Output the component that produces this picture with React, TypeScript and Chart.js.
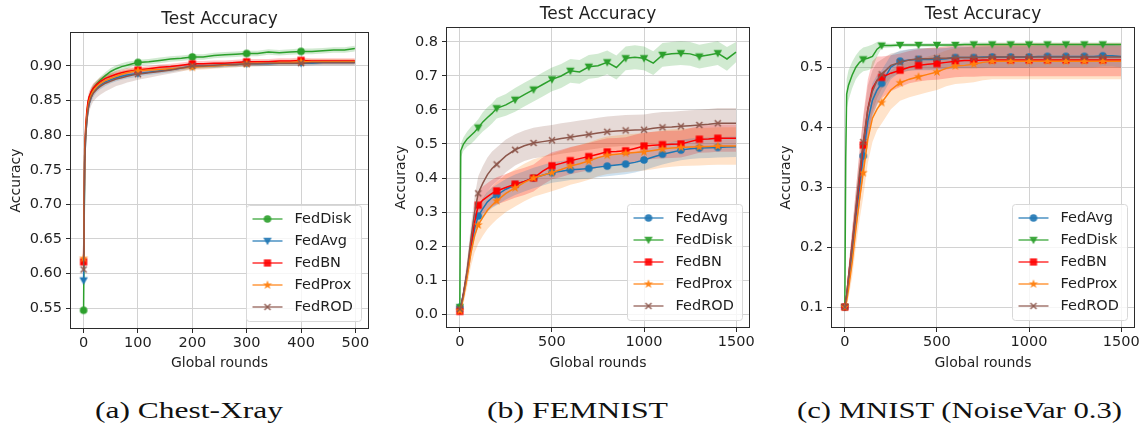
import React, { useEffect, useLayoutEffect, useRef } from 'react';
import { Chart, registerables } from 'chart.js';

Chart.register(...registerables);

// ---------------- DATA ----------------
const seriesColors: Record<string, string> = {
  FedAvg: '#1f77b4',
  FedDisk: '#2ca02c',
  FedBN: '#ff0000',
  FedProx: '#ff7f0e',
  FedROD: '#8c564b',
};

const titleText = 'Test Accuracy';
const xAxisLabel = 'Global rounds';
const yAxisLabel = 'Accuracy';
const captions = ['(a) Chest-Xray', '(b) FEMNIST', '(c) MNIST (NoiseVar 0.3)'];

// Panel (a) Chest-Xray
const xTicksA = [0, 100, 200, 300, 400, 500];
const yTicksA = [0.55, 0.6, 0.65, 0.7, 0.75, 0.8, 0.85, 0.9];
const legendOrderA = ['FedDisk', 'FedAvg', 'FedBN', 'FedProx', 'FedROD'];
const roundsA = [
  0, 2, 4, 6, 8, 10, 14, 18, 24, 30,
  40, 50, 60, 70, 80, 90, 100, 120, 140, 160,
  180, 200, 220, 240, 260, 280, 300, 320, 340, 360,
  380, 400, 420, 440, 460, 480, 499,
];
const fedDiskA = [
  0.547, 0.77, 0.81, 0.83, 0.845, 0.853, 0.862, 0.868, 0.874, 0.879,
  0.886, 0.892, 0.896, 0.899, 0.901, 0.903, 0.905, 0.906, 0.908, 0.910,
  0.911, 0.913, 0.913, 0.915, 0.916, 0.917, 0.918, 0.918, 0.920, 0.919,
  0.920, 0.921, 0.921, 0.922, 0.923, 0.923, 0.925,
];
const fedAvgA = [
  0.590, 0.76, 0.80, 0.822, 0.836, 0.845, 0.855, 0.862, 0.868, 0.872,
  0.877, 0.880, 0.883, 0.885, 0.887, 0.888, 0.889, 0.891, 0.893, 0.895,
  0.897, 0.899, 0.900, 0.900, 0.901, 0.902, 0.903, 0.903, 0.903, 0.904,
  0.904, 0.904, 0.904, 0.905, 0.905, 0.905, 0.905,
];
const fedBnA = [
  0.617, 0.78, 0.815, 0.835, 0.848, 0.855, 0.863, 0.868, 0.873, 0.877,
  0.882, 0.885, 0.888, 0.890, 0.892, 0.893, 0.894, 0.896, 0.898, 0.899,
  0.901, 0.903, 0.903, 0.904, 0.904, 0.905, 0.906, 0.906, 0.906, 0.907,
  0.907, 0.908, 0.907, 0.907, 0.907, 0.907, 0.907,
];
const fedProxA = [
  0.622, 0.77, 0.805, 0.826, 0.840, 0.849, 0.858, 0.864, 0.870, 0.874,
  0.879, 0.882, 0.885, 0.888, 0.890, 0.892, 0.893, 0.894, 0.895, 0.896,
  0.897, 0.898, 0.899, 0.900, 0.901, 0.902, 0.903, 0.904, 0.904, 0.905,
  0.905, 0.906, 0.906, 0.906, 0.906, 0.906, 0.906,
];
const fedRodA = [
  0.606, 0.76, 0.80, 0.82, 0.835, 0.845, 0.855, 0.861, 0.866, 0.870,
  0.875, 0.878, 0.881, 0.883, 0.885, 0.887, 0.888, 0.890, 0.892, 0.894,
  0.897, 0.900, 0.900, 0.901, 0.902, 0.902, 0.903, 0.903, 0.904, 0.904,
  0.904, 0.904, 0.905, 0.905, 0.905, 0.905, 0.905,
];
const bandDiskA = [
  0, 0.012, 0.010, 0.008, 0.007, 0.006, 0.006, 0.005, 0.005, 0.005,
  0.005, 0.005, 0.005, 0.005, 0.005, 0.004, 0.004, 0.004, 0.004, 0.004,
  0.004, 0.004, 0.004, 0.004, 0.004, 0.004, 0.004, 0.004, 0.004, 0.004,
  0.004, 0.004, 0.004, 0.004, 0.004, 0.004, 0.004,
];
const bandAvgA = [
  0, 0.012, 0.010, 0.009, 0.008, 0.008, 0.007, 0.007, 0.006, 0.006,
  0.006, 0.005, 0.005, 0.005, 0.005, 0.005, 0.004, 0.004, 0.004, 0.004,
  0.003, 0.003, 0.003, 0.003, 0.003, 0.003, 0.003, 0.003, 0.003, 0.003,
  0.003, 0.003, 0.003, 0.003, 0.003, 0.003, 0.003,
];
const bandBnA = [
  0, 0.012, 0.010, 0.009, 0.008, 0.008, 0.007, 0.007, 0.006, 0.006,
  0.006, 0.005, 0.005, 0.005, 0.005, 0.005, 0.004, 0.004, 0.004, 0.004,
  0.004, 0.004, 0.004, 0.004, 0.004, 0.004, 0.004, 0.004, 0.004, 0.004,
  0.004, 0.004, 0.004, 0.004, 0.004, 0.004, 0.004,
];
const bandProxA = [
  0, 0.012, 0.010, 0.009, 0.008, 0.008, 0.007, 0.007, 0.006, 0.006,
  0.006, 0.006, 0.005, 0.005, 0.005, 0.005, 0.005, 0.004, 0.004, 0.004,
  0.004, 0.004, 0.004, 0.004, 0.004, 0.004, 0.004, 0.004, 0.004, 0.004,
  0.004, 0.004, 0.004, 0.004, 0.004, 0.004, 0.004,
];
const bandRodA = [
  0, 0.012, 0.012, 0.012, 0.012, 0.012, 0.012, 0.012, 0.012, 0.012,
  0.012, 0.011, 0.010, 0.010, 0.009, 0.009, 0.008, 0.007, 0.006, 0.005,
  0.005, 0.004, 0.004, 0.004, 0.004, 0.004, 0.004, 0.004, 0.004, 0.004,
  0.004, 0.004, 0.004, 0.004, 0.004, 0.004, 0.004,
];

// Panel (b) FEMNIST
const xTicksB = [0, 500, 1000, 1500];
const yTicksB = [0.0, 0.1, 0.2, 0.3, 0.4, 0.5, 0.6, 0.7, 0.8];
const legendOrderB = ['FedAvg', 'FedDisk', 'FedBN', 'FedProx', 'FedROD'];
const roundsB = [
  0, 5, 20, 40, 60, 80, 100, 125, 150, 175,
  200, 250, 300, 350, 400, 450, 500, 550, 600, 650,
  700, 750, 800, 850, 900, 950, 1000, 1050, 1100, 1150,
  1200, 1250, 1300, 1350, 1400, 1450, 1499,
];
const fedAvgB = [
  0.020, 0.025, 0.06, 0.12, 0.19, 0.25, 0.288, 0.31, 0.33, 0.342,
  0.350, 0.367, 0.380, 0.390, 0.400, 0.408, 0.416, 0.420, 0.424, 0.426,
  0.428, 0.432, 0.435, 0.438, 0.441, 0.446, 0.453, 0.462, 0.470, 0.476,
  0.482, 0.486, 0.488, 0.489, 0.490, 0.491, 0.492,
];
const fedDiskB = [
  0.020, 0.480, 0.500, 0.515, 0.525, 0.535, 0.548, 0.565, 0.578, 0.590,
  0.605, 0.615, 0.630, 0.645, 0.660, 0.675, 0.690, 0.700, 0.715, 0.712,
  0.727, 0.730, 0.740, 0.725, 0.752, 0.755, 0.752, 0.738, 0.762, 0.765,
  0.767, 0.765, 0.757, 0.762, 0.767, 0.750, 0.770,
];
const fedBnB = [
  0.008, 0.015, 0.06, 0.12, 0.20, 0.27, 0.320, 0.335, 0.345, 0.355,
  0.362, 0.372, 0.382, 0.390, 0.400, 0.420, 0.436, 0.443, 0.451, 0.457,
  0.463, 0.470, 0.477, 0.478, 0.480, 0.487, 0.494, 0.496, 0.498, 0.499,
  0.500, 0.507, 0.514, 0.515, 0.517, 0.517, 0.517,
];
const fedProxB = [
  0.010, 0.015, 0.05, 0.11, 0.18, 0.23, 0.262, 0.285, 0.305, 0.320,
  0.333, 0.355, 0.371, 0.387, 0.400, 0.408, 0.416, 0.425, 0.435, 0.442,
  0.450, 0.460, 0.467, 0.470, 0.473, 0.475, 0.477, 0.481, 0.485, 0.488,
  0.490, 0.491, 0.492, 0.493, 0.494, 0.494, 0.494,
];
const fedRodB = [
  0.015, 0.020, 0.06, 0.13, 0.22, 0.30, 0.355, 0.385, 0.410, 0.428,
  0.440, 0.465, 0.483, 0.495, 0.503, 0.507, 0.511, 0.516, 0.520, 0.524,
  0.528, 0.532, 0.536, 0.538, 0.540, 0.541, 0.542, 0.546, 0.549, 0.550,
  0.552, 0.554, 0.556, 0.558, 0.561, 0.561, 0.561,
];
const bandAvgB = [
  0, 0.005, 0.015, 0.020, 0.025, 0.030, 0.030, 0.030, 0.030, 0.030,
  0.030, 0.030, 0.030, 0.030, 0.030, 0.030, 0.030, 0.030, 0.030, 0.030,
  0.030, 0.030, 0.030, 0.030, 0.030, 0.030, 0.030, 0.030, 0.030, 0.030,
  0.030, 0.030, 0.030, 0.030, 0.030, 0.030, 0.030,
];
const bandDiskB = [
  0, 0.020, 0.020, 0.022, 0.025, 0.025, 0.025, 0.028, 0.030, 0.030,
  0.030, 0.032, 0.035, 0.035, 0.035, 0.035, 0.035, 0.035, 0.035, 0.035,
  0.035, 0.035, 0.035, 0.035, 0.035, 0.035, 0.035, 0.035, 0.035, 0.035,
  0.035, 0.035, 0.035, 0.035, 0.035, 0.035, 0.030,
];
const bandBnB = [
  0, 0.005, 0.015, 0.025, 0.035, 0.040, 0.040, 0.040, 0.040, 0.040,
  0.040, 0.040, 0.040, 0.040, 0.040, 0.040, 0.040, 0.040, 0.040, 0.040,
  0.040, 0.040, 0.040, 0.040, 0.040, 0.040, 0.040, 0.040, 0.040, 0.040,
  0.040, 0.040, 0.040, 0.040, 0.040, 0.040, 0.040,
];
const bandProxB = [
  0, 0.005, 0.020, 0.030, 0.040, 0.050, 0.055, 0.055, 0.055, 0.055,
  0.055, 0.055, 0.055, 0.055, 0.055, 0.055, 0.055, 0.055, 0.055, 0.055,
  0.055, 0.055, 0.055, 0.055, 0.055, 0.055, 0.055, 0.055, 0.055, 0.055,
  0.055, 0.055, 0.055, 0.055, 0.055, 0.055, 0.055,
];
const bandRodB = [
  0, 0.005, 0.020, 0.030, 0.040, 0.045, 0.050, 0.050, 0.050, 0.050,
  0.050, 0.048, 0.046, 0.045, 0.045, 0.045, 0.045, 0.045, 0.045, 0.045,
  0.045, 0.045, 0.045, 0.045, 0.045, 0.045, 0.045, 0.045, 0.045, 0.045,
  0.045, 0.045, 0.045, 0.045, 0.045, 0.045, 0.045,
];

// Panel (c) MNIST (NoiseVar 0.3)
const xTicksC = [0, 500, 1000, 1500];
const yTicksC = [0.1, 0.2, 0.3, 0.4, 0.5];
const legendOrderC = ['FedAvg', 'FedDisk', 'FedBN', 'FedProx', 'FedROD'];
const roundsC = [
  0, 5, 10, 20, 40, 60, 80, 100, 125, 150,
  175, 200, 250, 300, 350, 400, 450, 500, 550, 600,
  650, 700, 750, 800, 850, 900, 950, 1000, 1050, 1100,
  1150, 1200, 1250, 1300, 1350, 1400, 1450, 1499,
];
const fedAvgC = [
  0.100, 0.110, 0.120, 0.140, 0.190, 0.250, 0.300, 0.352, 0.410, 0.445,
  0.462, 0.473, 0.500, 0.510, 0.512, 0.513, 0.513, 0.513, 0.514, 0.516,
  0.516, 0.516, 0.517, 0.517, 0.517, 0.517, 0.517, 0.517, 0.518, 0.518,
  0.518, 0.518, 0.518, 0.518, 0.518, 0.519, 0.519, 0.518,
];
const fedDiskC = [
  0.100, 0.350, 0.455, 0.470, 0.487, 0.500, 0.508, 0.513, 0.515, 0.518,
  0.530, 0.536, 0.536, 0.537, 0.537, 0.537, 0.537, 0.537, 0.537, 0.537,
  0.538, 0.538, 0.538, 0.538, 0.538, 0.538, 0.538, 0.538, 0.538, 0.538,
  0.538, 0.538, 0.538, 0.538, 0.538, 0.538, 0.538, 0.538,
];
const fedBnC = [
  0.100, 0.110, 0.120, 0.150, 0.205, 0.260, 0.315, 0.370, 0.430, 0.465,
  0.478, 0.483, 0.490, 0.495, 0.500, 0.503, 0.505, 0.506, 0.508, 0.510,
  0.511, 0.511, 0.512, 0.512, 0.512, 0.512, 0.512, 0.512, 0.512, 0.512,
  0.512, 0.512, 0.512, 0.512, 0.512, 0.512, 0.512, 0.512,
];
const fedProxC = [
  0.100, 0.105, 0.110, 0.130, 0.175, 0.230, 0.280, 0.324, 0.380, 0.415,
  0.430, 0.441, 0.462, 0.474, 0.480, 0.484, 0.488, 0.492, 0.498, 0.502,
  0.503, 0.505, 0.508, 0.510, 0.510, 0.510, 0.510, 0.510, 0.510, 0.510,
  0.510, 0.510, 0.510, 0.510, 0.510, 0.510, 0.510, 0.510,
];
const fedRodC = [
  0.100, 0.110, 0.120, 0.150, 0.205, 0.265, 0.325, 0.375, 0.430, 0.460,
  0.478, 0.488, 0.503, 0.508, 0.512, 0.514, 0.514, 0.515, 0.515, 0.516,
  0.516, 0.516, 0.516, 0.517, 0.517, 0.517, 0.517, 0.517, 0.517, 0.517,
  0.517, 0.517, 0.517, 0.517, 0.517, 0.517, 0.517, 0.517,
];
const bandAvgC = [
  0, 0.005, 0.008, 0.012, 0.020, 0.025, 0.030, 0.030, 0.030, 0.028,
  0.025, 0.022, 0.020, 0.018, 0.018, 0.018, 0.018, 0.018, 0.018, 0.018,
  0.018, 0.018, 0.018, 0.018, 0.018, 0.018, 0.018, 0.018, 0.018, 0.018,
  0.018, 0.018, 0.018, 0.018, 0.018, 0.018, 0.018, 0.018,
];
const bandDiskC = [
  0, 0.030, 0.025, 0.025, 0.022, 0.020, 0.020, 0.020, 0.020, 0.020,
  0.012, 0.004, 0.003, 0.003, 0.003, 0.003, 0.003, 0.003, 0.003, 0.003,
  0.003, 0.003, 0.003, 0.003, 0.003, 0.003, 0.003, 0.003, 0.003, 0.003,
  0.003, 0.003, 0.003, 0.003, 0.003, 0.003, 0.003, 0.003,
];
const bandBnC = [
  0, 0.005, 0.010, 0.015, 0.025, 0.035, 0.045, 0.050, 0.050, 0.045,
  0.040, 0.035, 0.030, 0.028, 0.027, 0.027, 0.027, 0.027, 0.027, 0.027,
  0.027, 0.027, 0.027, 0.027, 0.027, 0.027, 0.027, 0.027, 0.027, 0.027,
  0.027, 0.027, 0.027, 0.027, 0.027, 0.027, 0.027, 0.027,
];
const bandProxC = [
  0, 0.005, 0.010, 0.015, 0.025, 0.030, 0.035, 0.040, 0.040, 0.040,
  0.035, 0.035, 0.032, 0.030, 0.030, 0.030, 0.030, 0.030, 0.030, 0.030,
  0.030, 0.030, 0.030, 0.030, 0.030, 0.030, 0.030, 0.030, 0.030, 0.030,
  0.030, 0.030, 0.030, 0.030, 0.030, 0.030, 0.030, 0.030,
];
const bandRodC = [
  0, 0.005, 0.010, 0.015, 0.025, 0.030, 0.035, 0.040, 0.040, 0.035,
  0.030, 0.025, 0.020, 0.018, 0.018, 0.018, 0.018, 0.018, 0.018, 0.018,
  0.018, 0.018, 0.018, 0.018, 0.018, 0.018, 0.018, 0.018, 0.018, 0.018,
  0.018, 0.018, 0.018, 0.018, 0.018, 0.018, 0.018, 0.018,
];

// ---------------- STYLE / LAYOUT ----------------
const FONT = '"DejaVu Sans", "Noto Sans", sans-serif';
const TEXT = '#1f1f1f';
const GRID = '#d2d2d2';
const SPINE = '#2b2b2b';

type Series = { name: string; values: number[]; spread: number[]; marker: string };
type Panel = {
  left: number; width: number; height: number;
  yWidth: number; padRight: number; padTop: number; xHeight: number;
  yTitlePad: number; titleY: number;
  xMin: number; xMax: number; yMin: number; yMax: number;
  xTicks: number[]; yTicks: number[]; yDecimals: number; lastMarker: number;
  rounds: number[]; series: Series[]; legend: string[];
};

const panels: Panel[] = [
  {
    left: 0, width: 380, height: 375, yWidth: 70, padRight: 11, padTop: 32, xHeight: 46,
    yTitlePad: 7.6, titleY: 19.5,
    xMin: -25, xMax: 525, yMin: 0.52, yMax: 0.949,
    xTicks: xTicksA, yTicks: yTicksA, yDecimals: 2, lastMarker: 400,
    rounds: roundsA, legend: legendOrderA,
    series: [
      { name: 'FedDisk', values: fedDiskA, spread: bandDiskA, marker: 'o' },
      { name: 'FedAvg', values: fedAvgA, spread: bandAvgA, marker: 'v' },
      { name: 'FedBN', values: fedBnA, spread: bandBnA, marker: 's' },
      { name: 'FedProx', values: fedProxA, spread: bandProxA, marker: '*' },
      { name: 'FedROD', values: fedRodA, spread: bandRodA, marker: 'x' },
    ],
  },
  {
    left: 380, width: 380, height: 375, yWidth: 66, padRight: 10, padTop: 27, xHeight: 47,
    yTitlePad: 12.6, titleY: 14.5,
    xMin: -75, xMax: 1575, yMin: -0.041, yMax: 0.844,
    xTicks: xTicksB, yTicks: yTicksB, yDecimals: 1, lastMarker: 1400,
    rounds: roundsB, legend: legendOrderB,
    series: [
      { name: 'FedAvg', values: fedAvgB, spread: bandAvgB, marker: 'o' },
      { name: 'FedDisk', values: fedDiskB, spread: bandDiskB, marker: 'v' },
      { name: 'FedBN', values: fedBnB, spread: bandBnB, marker: 's' },
      { name: 'FedProx', values: fedProxB, spread: bandProxB, marker: '*' },
      { name: 'FedROD', values: fedRodB, spread: bandRodB, marker: 'x' },
    ],
  },
  {
    left: 760, width: 384, height: 375, yWidth: 71, padRight: 9, padTop: 27, xHeight: 47,
    yTitlePad: 17.6, titleY: 14.5,
    xMin: -75, xMax: 1575, yMin: 0.065, yMax: 0.567,
    xTicks: xTicksC, yTicks: yTicksC, yDecimals: 1, lastMarker: 1400,
    rounds: roundsC, legend: legendOrderC,
    series: [
      { name: 'FedAvg', values: fedAvgC, spread: bandAvgC, marker: 'o' },
      { name: 'FedDisk', values: fedDiskC, spread: bandDiskC, marker: 'v' },
      { name: 'FedBN', values: fedBnC, spread: bandBnC, marker: 's' },
      { name: 'FedProx', values: fedProxC, spread: bandProxC, marker: '*' },
      { name: 'FedROD', values: fedRodC, spread: bandRodC, marker: 'x' },
    ],
  },
];

const captionBoxes = [
  { left: 95, right: 283 },
  { left: 487, right: 668 },
  { left: 797, right: 1122 },
];

function rgba(hex: string, a: number) {
  const n = parseInt(hex.slice(1), 16);
  return `rgba(${(n >> 16) & 255},${(n >> 8) & 255},${n & 255},${a})`;
}

function makeMarker(kind: string, color: string, alpha = 1): HTMLCanvasElement {
  const S = 14;
  const c = document.createElement('canvas');
  c.width = S; c.height = S;
  const g = c.getContext('2d')!;
  g.globalAlpha = alpha;
  g.fillStyle = color; g.strokeStyle = color;
  const m = S / 2;
  if (kind === 'o') {
    g.beginPath(); g.arc(m, m, 3.8, 0, Math.PI * 2); g.fill();
  } else if (kind === 'v') {
    g.beginPath(); g.moveTo(m - 4.2, m - 3.2); g.lineTo(m + 4.2, m - 3.2); g.lineTo(m, m + 4.2); g.closePath(); g.fill();
  } else if (kind === 's') {
    g.fillRect(m - 3.6, m - 3.6, 7.2, 7.2);
  } else if (kind === '*') {
    g.beginPath();
    for (let i = 0; i < 10; i++) {
      const r = i % 2 === 0 ? 4.8 : 2.0;
      const ang = -Math.PI / 2 + (i * Math.PI) / 5;
      const px = m + r * Math.cos(ang), py = m + r * Math.sin(ang);
      if (i === 0) g.moveTo(px, py); else g.lineTo(px, py);
    }
    g.closePath(); g.fill();
  } else if (kind === 'x') {
    g.lineWidth = 1.5;
    g.beginPath();
    g.moveTo(m - 3, m - 3); g.lineTo(m + 3, m + 3);
    g.moveTo(m + 3, m - 3); g.lineTo(m - 3, m + 3);
    g.stroke();
  }
  return c;
}

function buildConfig(p: Panel): any {
  const datasets: any[] = [];
  const markerOf: Record<string, string> = {};
  p.series.forEach((s, i) => {
    const color = seriesColors[s.name];
    markerOf[s.name] = s.marker;
    const lower = p.rounds.map((x, k) => ({ x, y: s.values[k] - s.spread[k] }));
    const upper = p.rounds.map((x, k) => ({ x, y: s.values[k] + s.spread[k] }));
    datasets.push({
      label: s.name + ' lo', data: lower, borderColor: 'rgba(0,0,0,0)', borderWidth: 0,
      pointRadius: 0, fill: false, order: 100,
    });
    datasets.push({
      label: s.name + ' hi', data: upper, borderColor: 'rgba(0,0,0,0)', borderWidth: 0,
      pointRadius: 0, fill: '-1', backgroundColor: rgba(color, 0.22), order: 100,
    });
    const img = makeMarker(s.marker, color);
    datasets.push({
      label: s.name,
      data: p.rounds.map((x, k) => ({ x, y: s.values[k] })),
      borderColor: color, backgroundColor: color, borderWidth: 1.5, fill: false,
      pointStyle: img,
      pointRadius: (ctx: any) => {
        const x = ctx?.raw?.x;
        return typeof x === 'number' && x % 100 === 0 && x <= p.lastMarker ? 4 : 0;
      },
      order: 10 - i,
    });
  });

  const tickFont = { family: FONT, size: 14.5 };
  const labelFont = { family: FONT, size: 14 };

  const decor = {
    id: 'decor',
    afterDatasetsDraw(chart: any) {
      const { ctx, chartArea: a } = chart;
      ctx.save();
      ctx.strokeStyle = SPINE; ctx.lineWidth = 1;
      ctx.strokeRect(Math.round(a.left) + 0.5, Math.round(a.top) + 0.5,
        Math.round(a.right) - Math.round(a.left) - 1, Math.round(a.bottom) - Math.round(a.top) - 1);
      ctx.restore();
    },
    afterDraw(chart: any) {
      const { ctx, chartArea: a } = chart;
      ctx.save();
      // title
      ctx.fillStyle = TEXT;
      ctx.font = `17px ${FONT}`;
      ctx.textAlign = 'center'; ctx.textBaseline = 'middle';
      ctx.fillText(titleText, (a.left + a.right) / 2, p.titleY);
      // legend
      const bw = 115, bh = 116;
      const bx = a.right - 7.5 - bw, by = a.bottom - 7.5 - bh;
      ctx.beginPath();
      const r = 3;
      ctx.moveTo(bx + r, by);
      ctx.lineTo(bx + bw - r, by); ctx.quadraticCurveTo(bx + bw, by, bx + bw, by + r);
      ctx.lineTo(bx + bw, by + bh - r); ctx.quadraticCurveTo(bx + bw, by + bh, bx + bw - r, by + bh);
      ctx.lineTo(bx + r, by + bh); ctx.quadraticCurveTo(bx, by + bh, bx, by + bh - r);
      ctx.lineTo(bx, by + r); ctx.quadraticCurveTo(bx, by, bx + r, by);
      ctx.closePath();
      ctx.fillStyle = 'rgba(255,255,255,0.8)'; ctx.fill();
      ctx.strokeStyle = '#d8d8d8'; ctx.lineWidth = 1; ctx.stroke();
      p.legend.forEach((name, i) => {
        const yy = by + 13.5 + i * 22;
        const col = seriesColors[name];
        ctx.strokeStyle = rgba(col, 0.8); ctx.lineWidth = 1.5;
        ctx.beginPath(); ctx.moveTo(bx + 6, yy); ctx.lineTo(bx + 36, yy); ctx.stroke();
        const mk = makeMarker(markerOf[name], col, 0.9);
        ctx.drawImage(mk, bx + 21 - mk.width / 2, yy - mk.height / 2);
        ctx.fillStyle = TEXT; ctx.font = `14.5px ${FONT}`;
        ctx.textAlign = 'left'; ctx.textBaseline = 'middle';
        ctx.fillText(name, bx + 48, yy + 0.5);
      });
      ctx.restore();
    },
  };

  return {
    type: 'line',
    data: { datasets },
    options: {
      animation: false,
      responsive: false,
      events: [],
      layout: { padding: { left: 0, right: p.padRight, top: p.padTop, bottom: 0 } },
      elements: { line: { tension: 0 } },
      plugins: {
        legend: { display: false },
        tooltip: { enabled: false },
        filler: { drawTime: 'beforeDatasetsDraw', propagate: false },
      },
      scales: {
        x: {
          type: 'linear', min: p.xMin, max: p.xMax,
          afterBuildTicks: (s: any) => { s.ticks = p.xTicks.map((v) => ({ value: v })); },
          afterFit: (s: any) => { s.height = p.xHeight; },
          ticks: { font: tickFont, color: TEXT, padding: 2, maxRotation: 0, autoSkip: false,
            callback: (v: any) => String(v) },
          grid: { color: GRID, lineWidth: 1, tickLength: 4, tickColor: SPINE, tickWidth: 1, drawTicks: true },
          border: { display: false },
          title: { display: true, text: xAxisLabel, font: labelFont, color: TEXT, padding: { top: 0, bottom: 3.6 } },
        },
        y: {
          type: 'linear', min: p.yMin, max: p.yMax,
          afterBuildTicks: (s: any) => { s.ticks = p.yTicks.map((v) => ({ value: v })); },
          afterFit: (s: any) => { s.width = p.yWidth; },
          ticks: { font: tickFont, color: TEXT, padding: 4, autoSkip: false,
            callback: (v: any) => Number(v).toFixed(p.yDecimals) },
          grid: { color: GRID, lineWidth: 1, tickLength: 4, tickColor: SPINE, tickWidth: 1, drawTicks: true },
          border: { display: false },
          title: { display: true, text: yAxisLabel, font: labelFont, color: TEXT, padding: { top: p.yTitlePad, bottom: 0 } },
        },
      },
    },
    plugins: [decor],
  };
}

function PanelChart({ p }: { p: Panel }) {
  const ref = useRef<HTMLCanvasElement>(null);
  useEffect(() => {
    if (!ref.current) return;
    const chart = new Chart(ref.current, buildConfig(p));
    return () => chart.destroy();
  }, [p]);
  return (
    <canvas
      ref={ref}
      width={p.width}
      height={p.height}
      style={{ position: 'absolute', left: p.left, top: 0, width: p.width, height: p.height }}
    />
  );
}

function Caption({ text, left, right }: { text: string; left: number; right: number }) {
  const ref = useRef<HTMLSpanElement>(null);
  useLayoutEffect(() => {
    const el = ref.current;
    if (!el) return;
    el.style.transform = 'none';
    const w = el.getBoundingClientRect().width;
    if (w > 0) el.style.transform = `scaleX(${(right - left) / w})`;
  }, [text, left, right]);
  return (
    <span
      ref={ref}
      style={{
        position: 'absolute', left, top: 398, whiteSpace: 'nowrap', transformOrigin: '0 0',
        fontFamily: '"Liberation Serif", "DejaVu Serif", serif', fontSize: 24, lineHeight: '24px', color: '#111',
      }}
    >
      {text}
    </span>
  );
}

export default function App() {
  return (
    <div style={{ position: 'absolute', left: 0, top: 0, width: 1144, height: 427, background: '#fff', overflow: 'hidden' }}>
      {panels.map((p, i) => (
        <PanelChart key={i} p={p} />
      ))}
      {captions.map((c, i) => (
        <Caption key={c} text={c} left={captionBoxes[i].left} right={captionBoxes[i].right} />
      ))}
    </div>
  );
}
